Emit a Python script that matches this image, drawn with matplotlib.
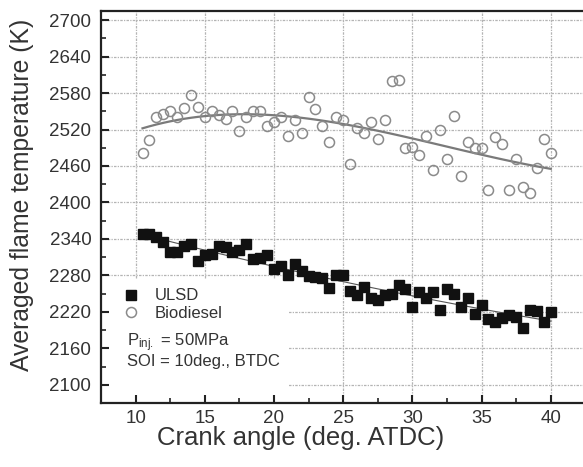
import numpy as np
import matplotlib.pyplot as plt
from matplotlib.patches import Rectangle
from matplotlib.lines import Line2D

plt.rcParams['font.family'] = ['Liberation Sans', 'DejaVu Sans']
plt.rcParams['mathtext.default'] = 'regular'

# crank angle (deg. ATDC)
crank = np.arange(10.5, 40.01, 0.5)

biodiesel = [2482, 2503, 2540, 2545, 2550, 2540, 2555, 2577, 2557, 2541,
             2550, 2544, 2537, 2550, 2518, 2540, 2551, 2550, 2526, 2532,
             2541, 2510, 2536, 2514, 2573, 2553, 2526, 2500, 2541, 2535,
             2464, 2523, 2515, 2532, 2504, 2535, 2600, 2601, 2490, 2491,
             2478, 2509, 2454, 2519, 2471, 2543, 2444, 2499, 2489, 2489,
             2421, 2508, 2496, 2420, 2471, 2425, 2416, 2456, 2505, 2482]

ulsd = [2348, 2348, 2343, 2335, 2318, 2319, 2329, 2332, 2303, 2313,
        2315, 2329, 2327, 2318, 2321, 2332, 2307, 2308, 2313, 2291,
        2296, 2280, 2299, 2288, 2279, 2277, 2275, 2259, 2280, 2280,
        2255, 2248, 2261, 2242, 2239, 2247, 2250, 2264, 2258, 2228,
        2253, 2242, 2253, 2223, 2258, 2250, 2228, 2243, 2217, 2231,
        2209, 2204, 2210, 2215, 2212, 2194, 2223, 2221, 2203, 2220]

xticks = [10, 15, 20, 25, 30, 35, 40]
yticks = list(range(2100, 2701, 60))

W, H = 583, 467
fig = plt.figure(figsize=(W / 100, H / 100), dpi=100)
ax = fig.add_axes([101 / W, 1 - 403 / H, (W - 101) / W, (403 - 11) / H])

txt = '#333333'
gstyle = dict(color='#b4b4b4', lw=0.9, ls=(0, (2, 1, 1, 1)), zorder=0.5)

# grid drawn by hand so the legend box can hide it but not the ticks
for xv in xticks:
    ax.axvline(xv, **gstyle)
for yv in yticks:
    ax.axhline(yv, **gstyle)

ax.add_patch(Rectangle((0, 0), (288 - 101) / (W - 101), (403 - 279) / 392,
                       transform=ax.transAxes, facecolor='white',
                       edgecolor='none', zorder=1))

# fits
bfit = np.poly1d(np.polyfit(crank, biodiesel, 3))
ufit = np.poly1d(np.polyfit(crank, ulsd, 2))
ax.plot(crank, bfit(crank), color='#7a7a7a', lw=1.6, zorder=2)
ax.plot(crank, ufit(crank), color='#555555', lw=0.8, zorder=2)

ax.plot(crank, ulsd, ls='none', marker='s', ms=7.4, mfc='#111111',
        mec='#111111', zorder=3)
ax.plot(crank, biodiesel, ls='none', marker='o', ms=7.2, mfc='none',
        mec='#8a8a8a', mew=1.1, zorder=3)

ax.set_xlim(7.55, 42.33)
ax.set_ylim(2074, 2715)
ax.set_xticks(xticks)
ax.set_yticks(yticks)
ax.set_xticks(np.arange(7.5, 42.5, 2.5), minor=True)
ax.set_yticks(range(2070, 2715, 30), minor=True)
ax.tick_params(which='both', direction='in', colors='#222222',
               labelcolor=txt, top=False, right=False)
ax.tick_params(which='major', length=6, width=1.5, labelsize=13.5)
ax.tick_params(axis='y', which='major', pad=7)
ax.tick_params(axis='x', which='major', pad=5)
ax.tick_params(which='minor', length=3.5, width=1.2)

for s in ['left', 'bottom', 'top']:
    ax.spines[s].set_linewidth(1.6)
    ax.spines[s].set_color('#222222')
ax.spines['right'].set_visible(False)

ax.set_xlabel('Crank angle (deg. ATDC)', fontsize=18.5, color=txt, va='center')
ax.set_ylabel('Averaged flame temperature (K)', fontsize=17.8, color=txt,
              va='center', ha='center')
ax.xaxis.set_label_coords((301 - 101) / (W - 101), -(438 - 403) / 392)
ax.yaxis.set_label_coords(-(101 - 22.5) / (W - 101), 1 - (195 - 11) / 392)

handles = [Line2D([], [], ls='none', marker='s', ms=7.4, mfc='#111111', mec='#111111'),
           Line2D([], [], ls='none', marker='o', ms=7.2, mfc='none', mec='#8a8a8a', mew=1.1)]
leg = ax.legend(handles, ['ULSD', 'Biodiesel'], loc='upper left',
                bbox_to_anchor=(122.7 / W, 1 - 288.5 / H),
                bbox_transform=fig.transFigure, frameon=False, fontsize=12,
                handlelength=1.0, handletextpad=0.94, labelspacing=0.15,
                borderpad=0, borderaxespad=0)
for t in leg.get_texts():
    t.set_color(txt)

fig.text(126.7 / W, 1 - 342.7 / H, 'P$_{inj.}$ = 50MPa', fontsize=12,
         color=txt, va='center')
fig.text(126.7 / W, 1 - 361.7 / H, 'SOI = 10deg., BTDC', fontsize=12,
         color=txt, va='center')

fig.savefig('out.png', dpi=100)
